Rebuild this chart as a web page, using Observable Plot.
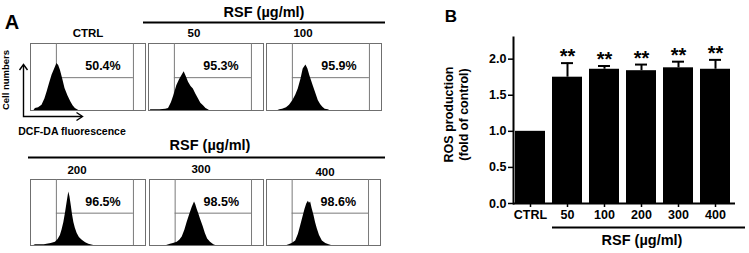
<!DOCTYPE html>
<html>
<head>
<meta charset="utf-8">
<script src="https://cdn.jsdelivr.net/npm/d3@7"></script>
<script src="https://cdn.jsdelivr.net/npm/@observablehq/plot@0.6"></script>
<style>
  html, body { margin: 0; padding: 0; background: #fff; }
  #fig { position: relative; width: 749px; height: 253px; overflow: hidden; background: #fff;
         font-family: "Liberation Sans", Arial, sans-serif; color: #000; }
  .abs { position: absolute; }
  .lbl { position: absolute; line-height: 1; white-space: nowrap; transform: translate(-50%, -50%); font-weight: bold; }
</style>
</head>
<body>
<div id="fig"></div>
<script>
const FF = '"Liberation Sans", Arial, sans-serif';

// ---------- Panel B data ----------
const categories = ["CTRL", "50", "100", "200", "300", "400"];
const rosValues = [1.0, 1.75, 1.86, 1.84, 1.88, 1.86];
const rosErrors = [0, 0.195, 0.045, 0.085, 0.085, 0.13];
const significance = ["", "**", "**", "**", "**", "**"];
const yTicks = [0, 0.5, 1.0, 1.5, 2.0];

// ---------- Panel A data (flow cytometry histograms: [fluorescence % of box, relative count]) ----------
const histLabels = ["CTRL", "50", "100", "200", "300", "400"];
const gatePercents = ["50.4%", "95.3%", "95.9%", "96.5%", "98.5%", "98.6%"];
const gateMarkers = [22.5, 89.5];
const gateLevel = 0.49;
const histCTRL = [[3,0],[4.3,0.03],[7,0.04],[10,0.08],[12.5,0.17],[14.5,0.28],[16.5,0.40],[18.8,0.53],[21,0.62],[23,0.70],[24.5,0.67],[26,0.60],[28,0.47],[30,0.33],[32.5,0.22],[35,0.13],[37,0.07],[39,0.03],[42,0]];
const hist50 = [[1.5,0],[2,0.01],[10,0.01],[15,0.02],[17.4,0.03],[20,0.12],[22,0.22],[24.6,0.37],[27,0.46],[29,0.52],[31,0.58],[33,0.50],[34.8,0.42],[37,0.36],[39,0.32],[41,0.25],[43.5,0.17],[45.5,0.11],[47.8,0.07],[50,0.03],[52,0.01],[53,0]];
const hist100 = [[10,0],[11.6,0.01],[14,0.02],[17.4,0.04],[20,0.08],[23,0.15],[25.5,0.23],[27.6,0.32],[30,0.47],[31.9,0.62],[34.3,0.68],[36,0.62],[37.7,0.52],[40.6,0.37],[43,0.25],[45,0.15],[47,0.09],[49,0.05],[51,0.02],[53.6,0.01],[55,0]];
const hist200 = [[3,0],[4.3,0.01],[12,0.01],[18,0.03],[21.7,0.05],[24,0.09],[26,0.15],[27.5,0.24],[29,0.35],[30.5,0.50],[31.9,0.66],[33.3,0.81],[34.3,0.74],[35.4,0.61],[36.5,0.47],[37.7,0.35],[39,0.26],[40.6,0.18],[42.5,0.12],[45,0.08],[48,0.04],[50.7,0.02],[55,0]];
const hist300 = [[15,0],[18.4,0.02],[21,0.03],[24.3,0.05],[26.5,0.08],[28.7,0.13],[31,0.23],[33,0.35],[35.3,0.47],[37.5,0.58],[39.5,0.66],[40.5,0.62],[41.8,0.55],[43.2,0.48],[44.7,0.40],[47,0.29],[49,0.18],[51,0.10],[53.5,0.05],[56.4,0.01],[58,0]];
const hist400 = [[18,0],[19.8,0.01],[22.5,0.03],[25.6,0.07],[28,0.17],[30,0.30],[32,0.43],[33.8,0.55],[35.3,0.63],[36.7,0.67],[37.7,0.64],[38.7,0.66],[40,0.56],[41.7,0.45],[43,0.35],[44.6,0.25],[46.5,0.15],[49,0.07],[52,0.03],[54.9,0.01],[57,0]];
const histograms = [histCTRL, hist50, hist100, hist200, hist300, hist400];

// layout of the histogram boxes (left, top, width, height)
const boxes = [
  [30, 43, 115, 67], [148, 43, 115, 67], [266, 43, 115, 67],
  [30, 179, 115, 66], [149, 179, 114, 66], [266, 179, 114, 66]
];

const fig = document.getElementById("fig");

function label(text, x, y, size, weight = "bold", rotate = 0) {
  const d = document.createElement("div");
  d.className = "lbl";
  d.textContent = text;
  d.style.left = x + "px";
  d.style.top = y + "px";
  d.style.fontSize = size + "px";
  d.style.fontWeight = weight;
  if (rotate) d.style.transform = `translate(-50%, -50%) rotate(${rotate}deg)`;
  fig.appendChild(d);
}

// decorative lines and arrows
const ns = "http://www.w3.org/2000/svg";
const deco = document.createElementNS(ns, "svg");
deco.setAttribute("width", 749);
deco.setAttribute("height", 253);
deco.setAttribute("class", "abs");
deco.style.left = "0px"; deco.style.top = "0px";
deco.innerHTML = `
  <line x1="143" y1="22.5" x2="385" y2="22.5" stroke="#000" stroke-width="2"/>
  <line x1="28" y1="157.5" x2="385" y2="157.5" stroke="#000" stroke-width="2"/>
  <line x1="552" y1="227.5" x2="745" y2="227.5" stroke="#000" stroke-width="2"/>
  <path d="M23.5,65 L23.5,116.5 L82,116.5" fill="none" stroke="#000" stroke-width="1.4"/>
  <path d="M19.5,70 L23.5,64.5 L27.5,70" fill="none" stroke="#000" stroke-width="1.4"/>
  <path d="M76.5,112.5 L82.5,116.5 L76.5,120.5" fill="none" stroke="#000" stroke-width="1.4"/>
`;
fig.appendChild(deco);

// Panel A histograms
histograms.forEach((h, i) => {
  const [left, top, w, ht] = boxes[i];
  const chart = Plot.plot({
    width: w, height: ht,
    margin: 0,
    x: {domain: [0, 100], axis: null},
    y: {domain: [0, 1], axis: null},
    style: {fontFamily: FF, background: "transparent", overflow: "visible"},
    marks: [
      Plot.frame({stroke: "#6f6f6f", strokeWidth: 1}),
      Plot.ruleX(gateMarkers, {stroke: "#7a7a7a", strokeWidth: 1}),
      Plot.ruleY([gateLevel], {x1: gateMarkers[0], x2: gateMarkers[1], stroke: "#7a7a7a", strokeWidth: 1}),
      Plot.areaY(h, {x: d => d[0], y: d => d[1], fill: "#000", curve: "linear"}),
      Plot.text([gatePercents[i]], {x: 63, y: 0.66, fontSize: 12.5, fontWeight: "bold", fill: "#000"})
    ]
  });
  const holder = document.createElement("div");
  holder.className = "abs";
  holder.style.left = left + "px";
  holder.style.top = top + "px";
  holder.appendChild(chart);
  fig.appendChild(holder);
});

// Panel A texts
label("A", 12, 22, 20);
label("RSF (µg/ml)", 264, 12, 14.5);
label("RSF (µg/ml)", 210, 145, 14.5);
const headPos = [[88, 34], [194, 34], [303, 34], [77, 171], [201, 170], [325, 173]];
histLabels.forEach((t, i) => label(t, headPos[i][0], headPos[i][1], 11.5));
label("Cell numbers", 6, 80, 9.5, "bold", -90);
label("DCF-DA fluorescence", 72, 131, 10.5);

// Panel B
const rows = categories.map((c, i) => ({cat: c, v: rosValues[i], e: rosErrors[i], s: significance[i]}));
const withErr = rows.filter(d => d.e > 0);
const chartB = Plot.plot({
  width: 319, height: 253,
  marginLeft: 83, marginRight: 14, marginTop: 37, marginBottom: 50,
  style: {fontFamily: FF, fontSize: "12.5px", fontWeight: "bold", color: "#000", background: "transparent", overflow: "visible"},
  x: {domain: categories, paddingInner: 0.2, paddingOuter: 0.08, align: 0.3, label: null},
  y: {domain: [0, 2.3], label: null},
  marks: [
    Plot.barY(rows, {x: "cat", y: "v", fill: "#000"}),
    Plot.ruleX(withErr, {x: "cat", y1: "v", y2: d => d.v + d.e, stroke: "#000", strokeWidth: 2}),
    Plot.tickY(withErr, {x: "cat", y: d => d.v + d.e, stroke: "#000", strokeWidth: 2, insetLeft: 9, insetRight: 9}),
    Plot.text(withErr, {x: "cat", y: d => d.v + d.e, text: "s", fontSize: 20, lineAnchor: "bottom", dy: 0, fill: "#000"}),
    Plot.axisX({tickSize: 4, tickPadding: 3, fontSize: 12.5, label: null, strokeWidth: 1.5}),
    Plot.axisY({ticks: yTicks, tickFormat: d3.format(".1f"), tickSize: 5, tickPadding: 2, fontSize: 12.5, label: null, strokeWidth: 1.5}),
    Plot.ruleY([0], {stroke: "#000", strokeWidth: 2}),
    Plot.frame({anchor: "left", stroke: "#000", strokeWidth: 2}),
    Plot.text(["ROS production\n(fold of control)"], {frameAnchor: "left", textAnchor: "middle", lineAnchor: "middle", rotate: -90, dx: -57.5, dy: -6, fontSize: 12.5, lineHeight: 1.2, fill: "#000"})
  ]
});
const holderB = document.createElement("div");
holderB.className = "abs";
holderB.style.left = "430px";
holderB.style.top = "0px";
holderB.appendChild(chartB);
fig.appendChild(holderB);

label("B", 451, 16, 17);
label("RSF (µg/ml)", 642, 240, 14.5);
</script>
</body>
</html>
